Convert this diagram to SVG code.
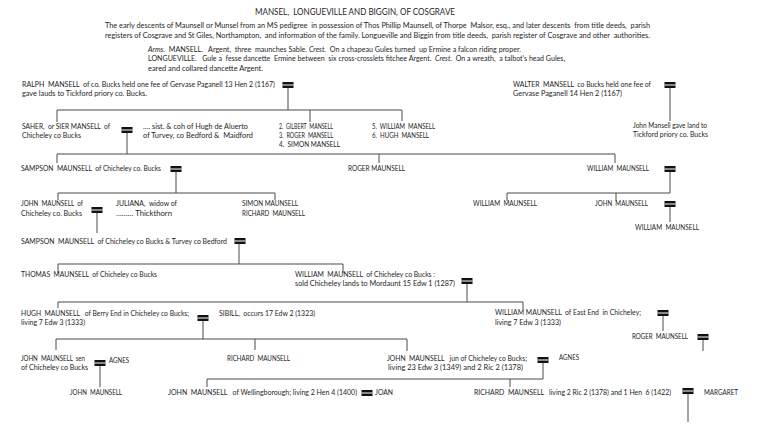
<svg xmlns="http://www.w3.org/2000/svg" xmlns:xlink="http://www.w3.org/1999/xlink" width="757" height="426" viewBox="0 0 757 426">
<style>
text{font-family:Lato,"Liberation Sans",Arial,sans-serif;font-size:7px;fill:#1e1e1e;white-space:pre}
.title{font-size:8.8px}
.i{font-style:italic}
.c path{stroke:#4a4a4a;stroke-width:1;fill:none}
</style>
<defs>
<g id="mar"><rect x="-5.5" y="-3" width="11" height="6" fill="#111"/><rect x="-5.5" y="-0.5" width="11" height="1" fill="#fff"/></g>
</defs>
<rect width="757" height="426" fill="#fff"/>
<g id="header">
<text class="title" x="255" y="14.5" textLength="200" lengthAdjust="spacingAndGlyphs">MANSEL,  LONGUEVILLE AND BIGGIN, OF COSGRAVE</text>
<text x="105" y="27.5" textLength="545" lengthAdjust="spacingAndGlyphs">The early descents of Maunsell or Munsel from an MS pedigree  in possession of Thos Phillip Maunsell, of Thorpe  Malsor, esq., and later descents  from title deeds,  parish</text>
<text x="105" y="37.5" textLength="545" lengthAdjust="spacingAndGlyphs">registers of Cosgrave and St Giles, Northampton,  and information of the family. Longueville and Biggin from title deeds,  parish register of Cosgrave and other  authorities.</text>
<text x="148" y="51.5" textLength="373" lengthAdjust="spacingAndGlyphs"><tspan class="i">Arms.</tspan>  MANSELL.   Argent,  three  maunches Sable. <tspan class="i">Crest.</tspan>  On a chapeau Gules turned  up Ermine a falcon riding proper.</text>
<text x="148" y="61" textLength="417" lengthAdjust="spacingAndGlyphs">LONGUEVILLE.   Gule a  fesse dancette  Ermine between  six cross-crosslets fitchee Argent.  <tspan class="i">Crest.</tspan>  On a wreath,  a talbot's head Gules,</text>
<text x="148" y="70.5" textLength="115" lengthAdjust="spacingAndGlyphs">eared and collared dancette Argent.</text>
</g>
<g class="c" id="connectors">
<path d="M288,88V110M57,110H402M57,110V122M310,110V122M402,110V121"/>
<path d="M670,88V121"/>
<path d="M127,133V154M57,154H615M57,154V163M379,154V163M615,154V163"/>
<path d="M176,172V193M58,193H275M58,193V200M275,193V200"/>
<path d="M670,172V193M507,193H670M507,193V201M616,193V201"/>
<path d="M97,213V233"/>
<path d="M670,207V222"/>
<path d="M239,244V264M58,264H343M58,264V273M343,264V273"/>
<path d="M467,284V302M58,302H523M58,302V308M523,302V309"/>
<path d="M203,321V339M56,339H407M56,339V350M255,339V350M407,339V351"/>
<path d="M663,316V331"/>
<path d="M703,340V351"/>
<path d="M100,366V387"/>
<path d="M543,363V379M207,379H543M207,379V387M510,379V387"/>
<path d="M688,394V422"/>
</g>
<g id="ralph"><text x="22" y="87.4" textLength="253" lengthAdjust="spacingAndGlyphs">RALPH  MANSELL  of co. Bucks held one fee of Gervase Paganell 13 Hen 2 (1167)</text><text x="22" y="96.4" textLength="125" lengthAdjust="spacingAndGlyphs">gave lauds to Tickford priory co. Bucks.</text><use xlink:href="#mar" x="288" y="85"/></g>
<g id="walter"><text x="513" y="87.4" textLength="138" lengthAdjust="spacingAndGlyphs">WALTER  MANSELL  co Bucks held one fee of</text><text x="513" y="96.4" textLength="109" lengthAdjust="spacingAndGlyphs">Gervase Paganell 14 Hen 2 (1167)</text><use xlink:href="#mar" x="670" y="85"/></g>
<g id="john-mansell"><text x="633" y="128.4" textLength="74" lengthAdjust="spacingAndGlyphs">John Mansell gave land to</text><text x="633" y="137.4" textLength="75" lengthAdjust="spacingAndGlyphs">Tickford priory co. Bucks</text></g>
<g id="saher"><text x="22" y="129.4" textLength="88" lengthAdjust="spacingAndGlyphs">SAHER,  or SIER MANSELL  of</text><text x="22" y="138.4" textLength="59" lengthAdjust="spacingAndGlyphs">Chicheley co Bucks</text><use xlink:href="#mar" x="127" y="130"/></g>
<g id="sist"><text x="143" y="129.4" textLength="105" lengthAdjust="spacingAndGlyphs">…. sist. &amp; coh of Hugh de Aluerto</text><text x="143" y="138.4" textLength="110" lengthAdjust="spacingAndGlyphs">of Turvey, co Bedford &amp;  Maidford</text></g>
<g id="gilbert"><text x="279" y="129.4" textLength="54" lengthAdjust="spacingAndGlyphs">2.  GILBERT  MANSELL</text><text x="279" y="138.4" textLength="54" lengthAdjust="spacingAndGlyphs">3.  ROGER  MANSELL</text><text x="279" y="147.4" textLength="61" lengthAdjust="spacingAndGlyphs">4.  SIMON MANSELL</text></g>
<g id="william5"><text x="372" y="129.4" textLength="63" lengthAdjust="spacingAndGlyphs">5.  WILLIAM  MANSELL</text><text x="372" y="138.4" textLength="57" lengthAdjust="spacingAndGlyphs">6.  HUGH  MANSELL</text></g>
<g id="sampson1"><text x="21" y="171.4" textLength="140" lengthAdjust="spacingAndGlyphs">SAMPSON  MAUNSELL  of Chicheley co. Bucks</text><use xlink:href="#mar" x="176" y="169"/></g>
<g id="roger1"><text x="348" y="171.4" textLength="57" lengthAdjust="spacingAndGlyphs">ROGER MAUNSELL</text></g>
<g id="william-r3"><text x="587" y="171.4" textLength="62" lengthAdjust="spacingAndGlyphs">WILLIAM  MAUNSELL</text><use xlink:href="#mar" x="670" y="169"/></g>
<g id="john-chicheley"><text x="21" y="206.4" textLength="62" lengthAdjust="spacingAndGlyphs">JOHN  MAUNSELL  of</text><text x="21" y="216.4" textLength="61" lengthAdjust="spacingAndGlyphs">Chicheley co. Bucks</text><use xlink:href="#mar" x="97" y="210"/></g>
<g id="juliana"><text x="116" y="206.4" textLength="61" lengthAdjust="spacingAndGlyphs">JULIANA,  widow of</text><text x="116" y="216.4" textLength="56" lengthAdjust="spacingAndGlyphs">……… Thickthorn</text></g>
<g id="simon-richard"><text x="242" y="206.4" textLength="56" lengthAdjust="spacingAndGlyphs">SIMON MAUNSELL</text><text x="242" y="216.4" textLength="63" lengthAdjust="spacingAndGlyphs">RICHARD  MAUNSELL</text></g>
<g id="william-r4a"><text x="473" y="206.4" textLength="64" lengthAdjust="spacingAndGlyphs">WILLIAM  MAUNSELL</text></g>
<g id="john-r4"><text x="595" y="206.4" textLength="53" lengthAdjust="spacingAndGlyphs">JOHN  MAUNSELL</text><use xlink:href="#mar" x="670" y="204"/></g>
<g id="william-r4b"><text x="635" y="230.4" textLength="64" lengthAdjust="spacingAndGlyphs">WILLIAM  MAUNSELL</text></g>
<g id="sampson2"><text x="21" y="244.4" textLength="206" lengthAdjust="spacingAndGlyphs">SAMPSON  MAUNSELL  of Chicheley co Bucks &amp; Turvey co Bedford</text><use xlink:href="#mar" x="240" y="241"/></g>
<g id="thomas"><text x="21" y="277.4" textLength="136" lengthAdjust="spacingAndGlyphs">THOMAS  MAUNSELL  of Chicheley co Bucks</text></g>
<g id="william-mordaunt"><text x="295" y="277.4" textLength="140" lengthAdjust="spacingAndGlyphs">WILLIAM  MAUNSELL  of Chicheley co Bucks :</text><text x="295" y="286.4" textLength="160" lengthAdjust="spacingAndGlyphs">sold Chicheley lands to Mordaunt 15 Edw 1 (1287)</text><use xlink:href="#mar" x="467" y="281"/></g>
<g id="hugh"><text x="21" y="316.4" textLength="168" lengthAdjust="spacingAndGlyphs">HUGH  MAUNSELL   of Berry End in Chicheley co Bucks;</text><text x="21" y="325.4" textLength="64" lengthAdjust="spacingAndGlyphs">living 7 Edw 3 (1333)</text><use xlink:href="#mar" x="203" y="318"/></g>
<g id="sibill"><text x="219" y="316.4" textLength="96" lengthAdjust="spacingAndGlyphs">SIBILL,  occurs 17 Edw 2 (1323)</text></g>
<g id="william-east"><text x="495" y="315.4" textLength="146" lengthAdjust="spacingAndGlyphs">WILLIAM MAUNSELL  of East End  in Chicheley;</text><text x="495" y="325.4" textLength="66" lengthAdjust="spacingAndGlyphs">living 7 Edw 3 (1333)</text><use xlink:href="#mar" x="663" y="313"/></g>
<g id="roger2"><text x="632" y="339.4" textLength="56" lengthAdjust="spacingAndGlyphs">ROGER  MAUNSELL</text><use xlink:href="#mar" x="703" y="337"/></g>
<g id="john-sen"><text x="21" y="361.4" textLength="64" lengthAdjust="spacingAndGlyphs">JOHN  MAUNSELL  sen</text><text x="21" y="370.4" textLength="67" lengthAdjust="spacingAndGlyphs">of Chicheley co Bucks</text><use xlink:href="#mar" x="100" y="363"/></g>
<g id="agnes1"><text x="109" y="363.4" textLength="20" lengthAdjust="spacingAndGlyphs">AGNES</text></g>
<g id="richard1"><text x="227" y="361.4" textLength="63" lengthAdjust="spacingAndGlyphs">RICHARD  MAUNSELL</text></g>
<g id="john-jun"><text x="387" y="361.4" textLength="140" lengthAdjust="spacingAndGlyphs">JOHN  MAUNSELL   jun of Chicheley co Bucks;</text><text x="388" y="370.4" textLength="135" lengthAdjust="spacingAndGlyphs">living 23 Edw 3 (1349) and 2 Ric 2 (1378)</text><use xlink:href="#mar" x="543" y="360"/></g>
<g id="agnes2"><text x="559" y="360.4" textLength="20" lengthAdjust="spacingAndGlyphs">AGNES</text></g>
<g id="john-r8"><text x="70" y="395.4" textLength="52" lengthAdjust="spacingAndGlyphs">JOHN  MAUNSELL</text></g>
<g id="john-wellingborough"><text x="168" y="395.4" textLength="189" lengthAdjust="spacingAndGlyphs">JOHN  MAUNSELL   of Wellingborough; living 2 Hen 4 (1400)</text><use xlink:href="#mar" x="367" y="393"/></g>
<g id="joan"><text x="375" y="395.4" textLength="18" lengthAdjust="spacingAndGlyphs">JOAN</text></g>
<g id="richard2"><text x="474" y="395.4" textLength="197" lengthAdjust="spacingAndGlyphs">RICHARD  MAUNSELL   living 2 Ric 2 (1378) and 1 Hen  6 (1422)</text><use xlink:href="#mar" x="688" y="391"/></g>
<g id="margaret"><text x="704" y="395.4" textLength="34" lengthAdjust="spacingAndGlyphs">MARGARET</text></g>
</svg>
